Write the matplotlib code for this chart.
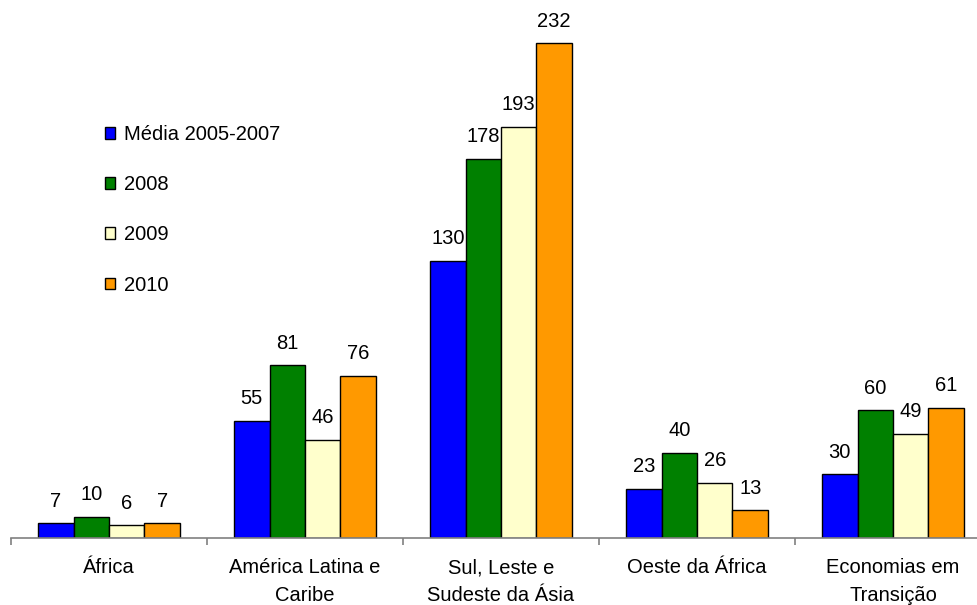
import numpy as np
import matplotlib
matplotlib.use('Agg')
import matplotlib.pyplot as plt

plt.rcParams['font.family'] = ['Liberation Sans', 'DejaVu Sans']

## data
categories = ['África', 'América Latina e\nCaribe', 'Sul, Leste e\nSudeste da Ásia',
              'Oeste da África', 'Economias em\nTransição']
series_names = ['Média 2005-2007', '2008', '2009', '2010']
media_2005_2007 = [7, 55, 130, 23, 30]
v2008 = [10, 81, 178, 40, 60]
v2009 = [6, 46, 193, 26, 49]
v2010 = [7, 76, 232, 13, 61]
colors = ['#0000FF', '#008000', '#FFFFCC', '#FF9900']

series = [media_2005_2007, v2008, v2009, v2010]
fs = 14.5

fig = plt.figure(figsize=(9.77, 6.05), dpi=100)
ax = fig.add_axes([11/977, 67/605, 980/977, 533/605])

x = np.arange(len(categories))
width = 0.181
for i, (vals, name, col) in enumerate(zip(series, series_names, colors)):
    pos = x + (i - 1.5) * width
    bars = ax.bar(pos, vals, width, color=col, edgecolor='black', linewidth=1.0, label=name)
    for b, v in zip(bars, vals):
        ax.annotate(str(v), (b.get_x() + b.get_width()/2, v), xytext=(0, 9),
                    textcoords='offset points', ha='center', va='bottom', fontsize=fs)

ax.set_xlim(-0.5, len(categories) - 0.5)
ax.set_ylim(0, 250)

## axis styling: only bottom axis with ticks between groups
for s in ['top', 'right', 'left']:
    ax.spines[s].set_visible(False)
ax.spines['bottom'].set_color('#808080')
ax.spines['bottom'].set_linewidth(1.2)
ax.set_yticks([])
ax.set_xticks(np.arange(len(categories) + 1) - 0.5)
ax.set_xticklabels([])
ax.tick_params(axis='x', length=5, color='#808080', width=1.2)
for xi, cat in zip(x, categories):
    ax.text(xi, -0.038, cat, transform=ax.get_xaxis_transform(), ha='center', va='top',
            fontsize=fs, linespacing=1.55)

leg = ax.legend(loc='upper left', bbox_to_anchor=(0.0959, 0.775), frameon=False, fontsize=fs,
                borderpad=0, borderaxespad=0,
                handlelength=0.5, handleheight=0.5, handletextpad=0.45, labelspacing=1.55)

fig.savefig('out.png', dpi=100)
